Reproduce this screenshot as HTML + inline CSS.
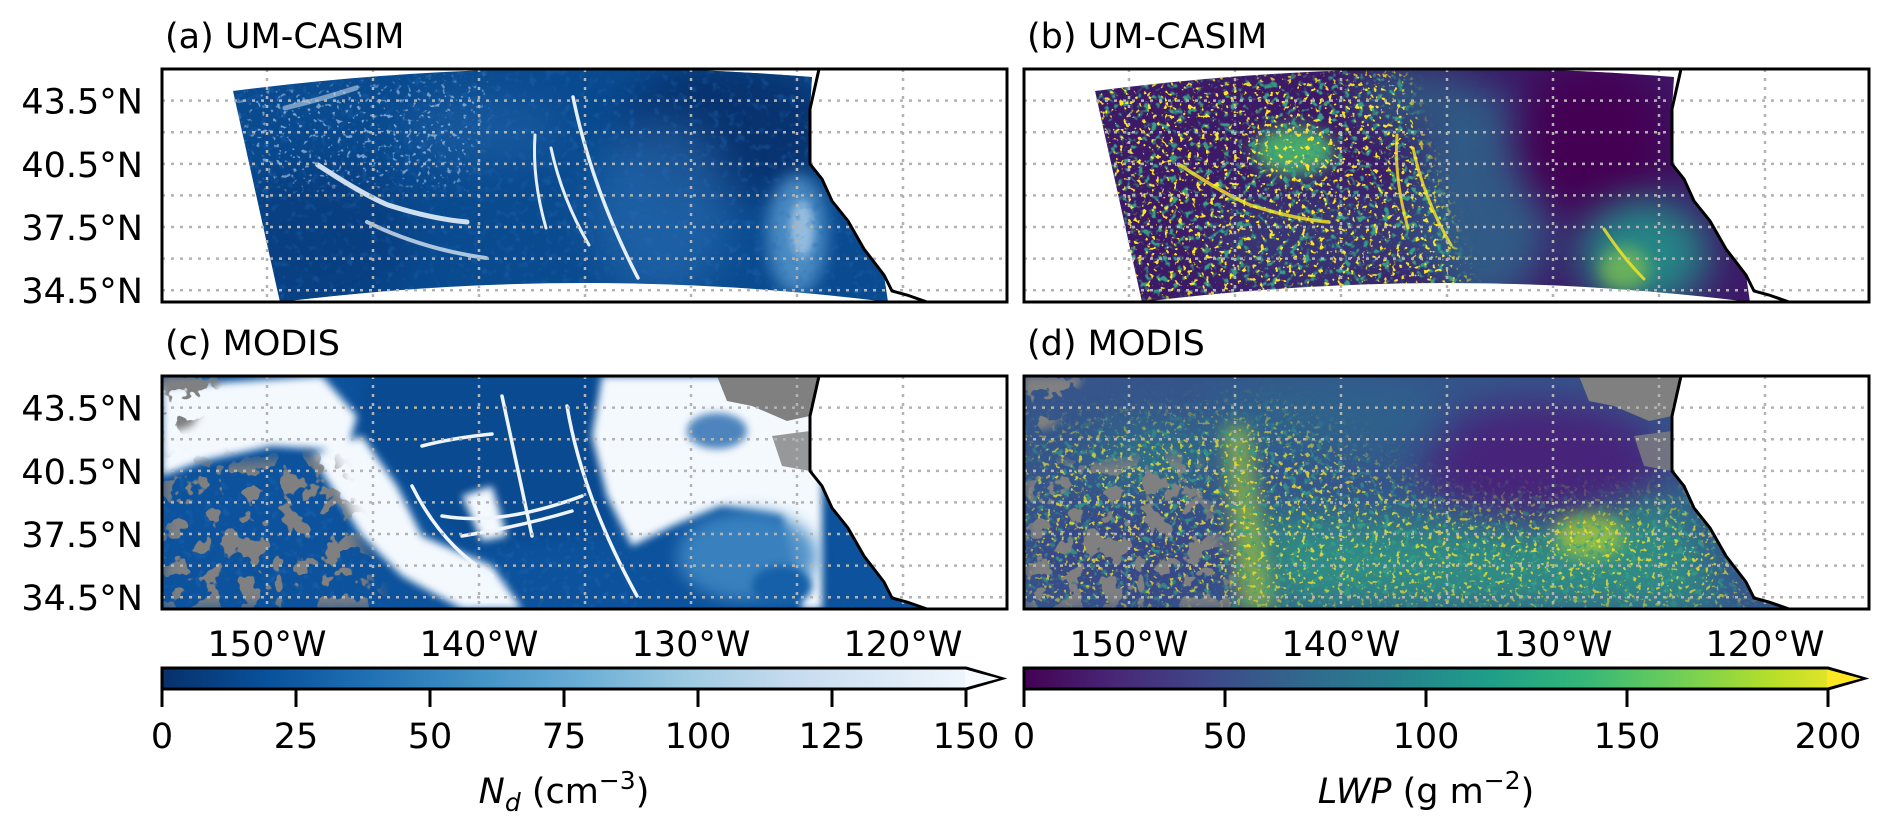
<!DOCTYPE html>
<html><head><meta charset="utf-8"><style>
html,body{margin:0;padding:0;background:#fff;}
svg{display:block;font-family:"DejaVu Sans","Liberation Sans",sans-serif;}
filter{color-interpolation-filters:sRGB;}
</style></head><body>
<svg id="fig" width="1892" height="831" viewBox="0 0 1892 831" xmlns="http://www.w3.org/2000/svg">
<defs>
  <linearGradient id="gBlues" x1="0" x2="1" y1="0" y2="0">
    <stop offset="0" stop-color="#08306b"/><stop offset="0.125" stop-color="#08519c"/>
    <stop offset="0.25" stop-color="#2171b5"/><stop offset="0.375" stop-color="#4292c6"/>
    <stop offset="0.5" stop-color="#6baed6"/><stop offset="0.625" stop-color="#9ecae1"/>
    <stop offset="0.75" stop-color="#c6dbef"/><stop offset="0.875" stop-color="#deebf7"/>
    <stop offset="1" stop-color="#f7fbff"/>
  </linearGradient>
  <linearGradient id="gVir" x1="0" x2="1" y1="0" y2="0">
    <stop offset="0" stop-color="#440154"/><stop offset="0.111" stop-color="#482878"/>
    <stop offset="0.222" stop-color="#3e4989"/><stop offset="0.333" stop-color="#31688e"/>
    <stop offset="0.444" stop-color="#26828e"/><stop offset="0.555" stop-color="#1f9e89"/>
    <stop offset="0.666" stop-color="#35b779"/><stop offset="0.777" stop-color="#6ece58"/>
    <stop offset="0.888" stop-color="#b5de2b"/><stop offset="1" stop-color="#fde725"/>
  </linearGradient>
  <clipPath id="cpPanel"><rect x="0" y="0" width="845" height="233"/></clipPath>
  <clipPath id="cpSwath"><path d="M71,22 Q360,-15 650,8 L648,40 L648,95 L660,110 L670,132 L686,152 L702,180 L722,206 L726,233 Q425,195 118,233 Z"/></clipPath>
  <clipPath id="cpOcean"><path d="M0,0 L657,0 L648,40 L648,95 L660,110 L670,132 L686,152 L702,180 L722,206 L730,222 L745,226 L765,233 L0,233 Z"/></clipPath>
  <filter id="blur20" x="-50%" y="-50%" width="200%" height="200%" color-interpolation-filters="sRGB"><feGaussianBlur stdDeviation="20"/></filter>
  <filter id="blur8" x="-50%" y="-50%" width="200%" height="200%" color-interpolation-filters="sRGB"><feGaussianBlur stdDeviation="8"/></filter>
  <filter id="blur4" x="-50%" y="-50%" width="200%" height="200%" color-interpolation-filters="sRGB"><feGaussianBlur stdDeviation="4"/></filter>
  <filter id="spkY" x="0" y="0" width="845" height="233" filterUnits="userSpaceOnUse" color-interpolation-filters="sRGB">
    <feTurbulence type="fractalNoise" baseFrequency="0.22" numOctaves="2" seed="3"/>
    <feColorMatrix type="matrix" values="0 0 0 0 0.99  0 0 0 0 0.9  0 0 0 0 0.15  12 0 0 0 -7.4"/>
  </filter>
  <filter id="spkGr" x="0" y="0" width="845" height="233" filterUnits="userSpaceOnUse" color-interpolation-filters="sRGB">
    <feTurbulence type="fractalNoise" baseFrequency="0.15" numOctaves="2" seed="21"/>
    <feColorMatrix type="matrix" values="0 0 0 0 0.21  0 0 0 0 0.62  0 0 0 0 0.52  6 0 0 0 -3.3"/>
  </filter>
  <filter id="spkW" x="0" y="0" width="845" height="233" filterUnits="userSpaceOnUse" color-interpolation-filters="sRGB">
    <feTurbulence type="fractalNoise" baseFrequency="0.2" numOctaves="2" seed="8"/>
    <feColorMatrix type="matrix" values="0 0 0 0 0.85  0 0 0 0 0.92  0 0 0 0 1  10 0 0 0 -6.3"/>
  </filter>
  <filter id="spkL" x="0" y="0" width="845" height="233" filterUnits="userSpaceOnUse" color-interpolation-filters="sRGB">
    <feTurbulence type="fractalNoise" baseFrequency="0.12" numOctaves="2" seed="14"/>
    <feColorMatrix type="matrix" values="0 0 0 0 0.15  0 0 0 0 0.42  0 0 0 0 0.72  4 0 0 0 -2.2"/>
  </filter>
  <filter id="spkG" x="0" y="0" width="845" height="233" filterUnits="userSpaceOnUse" color-interpolation-filters="sRGB">
    <feTurbulence type="fractalNoise" baseFrequency="0.05" numOctaves="3" seed="5"/>
    <feColorMatrix type="matrix" values="0 0 0 0 0.5  0 0 0 0 0.5  0 0 0 0 0.5  30 0 0 0 -16.5"/>
  </filter>
  <mask id="mLeftB"><rect x="0" y="0" width="845" height="233" fill="#000"/>
    <path d="M60,10 L380,0 L450,233 L100,233 Z" fill="#fff" filter="url(#blur8)"/></mask>
  <mask id="mLowD"><rect x="0" y="0" width="845" height="233" fill="#000"/>
    <path d="M0,60 L250,40 L420,130 L700,130 L730,233 L0,233 Z" fill="#ccc" filter="url(#blur20)"/></mask>
  <mask id="mGrayC"><rect x="0" y="0" width="845" height="233" fill="#000"/>
    <path d="M0,90 L170,80 L220,233 L0,233 Z" fill="#fff" filter="url(#blur8)"/>
    <path d="M0,0 L60,0 L30,50 L0,60 Z" fill="#fff" filter="url(#blur4)"/></mask>
  <mask id="mLeftA"><rect x="0" y="0" width="845" height="233" fill="#000"/>
    <path d="M70,20 L330,10 L300,120 L100,120 Z" fill="#888" filter="url(#blur8)"/></mask>
  <mask id="mBlueC"><rect x="0" y="0" width="845" height="233" fill="#000"/>
    <path d="M0,100 L180,80 L230,233 L0,233 Z" fill="#fff" filter="url(#blur8)"/>
    <path d="M250,170 L470,150 L500,233 L260,233 Z" fill="#fff" filter="url(#blur8)"/></mask>
</defs>

<!-- Panel a -->
<g id="panel-a" transform="translate(162,69)">
  <g clip-path="url(#cpSwath)">
    <rect x="0" y="0" width="845" height="233" fill="#0a4b90"/>
    <ellipse cx="160" cy="170" rx="90" ry="80" fill="#083d7e" opacity="0.8" filter="url(#blur20)"/>
    <ellipse cx="570" cy="60" rx="110" ry="70" fill="#08336f" filter="url(#blur20)"/>
    <ellipse cx="500" cy="140" rx="70" ry="90" fill="#2a6db0" opacity="0.6" filter="url(#blur20)"/>
    <ellipse cx="320" cy="60" rx="80" ry="35" fill="#2566a9" opacity="0.5" filter="url(#blur20)"/>
    <ellipse cx="635" cy="165" rx="30" ry="60" fill="#5a9bd0" opacity="0.8" filter="url(#blur8)"/>
    <ellipse cx="640" cy="160" rx="12" ry="28" fill="#c5dcf0" opacity="0.6" filter="url(#blur4)"/>
    <rect x="0" y="0" width="845" height="233" filter="url(#spkL)" opacity="0.35"/>
    <rect x="0" y="0" width="845" height="233" filter="url(#spkW)" mask="url(#mLeftA)"/>
    <g fill="none" stroke="#e4eff9" stroke-linecap="round">
      <path d="M156,96 Q200,125 226,136 Q270,150 305,153" stroke-width="5" opacity="0.9"/>
      <path d="M205,153 Q260,180 324,189" stroke-width="4" opacity="0.75"/>
      <path d="M123,39 Q160,30 194,19" stroke-width="5" opacity="0.5"/>
      <path d="M411,28 Q430,120 476,209" stroke-width="3.5"/>
      <path d="M373,66 Q370,110 384,159" stroke-width="3"/>
      <path d="M389,79 Q400,130 427,176" stroke-width="3"/>
    </g>
  </g>
</g>

<!-- Panel b -->
<g id="panel-b" transform="translate(1024,69)">
  <g clip-path="url(#cpSwath)">
    <rect x="0" y="0" width="845" height="233" fill="#3d1a68"/>
    <ellipse cx="460" cy="130" rx="70" ry="110" fill="#2f6b8e" opacity="0.8" filter="url(#blur20)"/>
    <ellipse cx="390" cy="30" rx="60" ry="35" fill="#2a788e" opacity="0.6" filter="url(#blur20)"/>
    <ellipse cx="570" cy="70" rx="80" ry="80" fill="#440154" filter="url(#blur20)"/>
    <ellipse cx="620" cy="185" rx="65" ry="55" fill="#23928a" opacity="0.9" filter="url(#blur20)"/>
    <ellipse cx="600" cy="200" rx="25" ry="22" fill="#9fd93a" opacity="0.55" filter="url(#blur8)"/>
    <ellipse cx="270" cy="82" rx="40" ry="24" fill="#4cbc6c" opacity="0.9" filter="url(#blur8)"/>
    <ellipse cx="300" cy="170" rx="120" ry="50" fill="#31688e" opacity="0.35" filter="url(#blur20)"/>
    <rect x="0" y="0" width="845" height="233" filter="url(#spkGr)" mask="url(#mLeftB)"/>
    <rect x="0" y="0" width="845" height="233" filter="url(#spkY)" mask="url(#mLeftB)"/>
    <g fill="none" stroke="#fde725" stroke-linecap="round" opacity="0.8">
      <path d="M156,96 Q200,125 226,136 Q270,150 305,153" stroke-width="3.5"/>
      <path d="M373,66 Q370,110 384,159" stroke-width="3"/>
      <path d="M389,79 Q400,130 427,176" stroke-width="3"/>
      <path d="M580,160 Q600,190 620,210" stroke-width="3"/>
    </g>
  </g>
</g>

<!-- Panel c -->
<g id="panel-c" transform="translate(162,376)">
  <g clip-path="url(#cpOcean)">
    <rect x="0" y="0" width="845" height="233" fill="#0c529c"/>
    <path d="M200,0 L440,0 L450,160 L300,170 L200,60 Z" fill="#08458a" opacity="0.6" filter="url(#blur8)"/>
    <rect x="0" y="0" width="845" height="233" filter="url(#spkL)" opacity="0.4" mask="url(#mBlueC)"/>
    <g fill="#f4f9fe" filter="url(#blur4)">
      <path d="M0,10 L160,0 L195,40 L185,75 L110,70 L40,85 L0,100 Z"/>
      <path d="M150,80 L200,60 L235,110 L260,160 L330,190 L360,233 L300,233 L240,200 L200,160 Z"/>
      <path d="M440,0 L660,0 L660,233 L640,233 L620,140 L560,130 L510,150 L470,170 L445,120 L430,60 Z"/>
      <path d="M300,120 L330,110 L345,160 L320,165 Z"/>
    </g>
    <ellipse cx="585" cy="180" rx="70" ry="45" fill="#3d86c2" opacity="0.9" filter="url(#blur8)"/>
    <ellipse cx="620" cy="210" rx="30" ry="20" fill="#1560a8" filter="url(#blur4)"/>
    <ellipse cx="555" cy="55" rx="30" ry="18" fill="#2468ad" opacity="0.8" filter="url(#blur4)"/>
    <rect x="0" y="0" width="845" height="233" filter="url(#spkG)" mask="url(#mGrayC)"/>
    <path d="M555,0 L657,0 L648,40 L625,45 L590,30 L565,25 Z" fill="#808080"/>
    <path d="M610,60 L648,55 L648,95 L620,90 Z" fill="#808080" opacity="0.8"/>
    <g fill="none" stroke="#eef5fc" stroke-linecap="round" stroke-width="3.5">
      <path d="M340,20 Q355,90 370,160"/>
      <path d="M405,30 Q420,120 475,220"/>
      <path d="M260,70 Q290,62 330,58"/>
      <path d="M250,110 Q280,170 330,200"/>
      <path d="M280,140 Q340,150 420,120"/>
      <path d="M300,160 Q360,150 410,135"/>
    </g>
  </g>
</g>

<!-- Panel d -->
<g id="panel-d" transform="translate(1024,376)">
  <g clip-path="url(#cpOcean)">
    <rect x="0" y="0" width="845" height="233" fill="#35558b"/>
    <ellipse cx="520" cy="90" rx="120" ry="65" fill="#47247a" filter="url(#blur20)"/>
    <ellipse cx="300" cy="40" rx="120" ry="40" fill="#2b6a8d" opacity="0.6" filter="url(#blur20)"/>
    <ellipse cx="110" cy="180" rx="110" ry="50" fill="#3a3f85" opacity="0.6" filter="url(#blur20)"/>
    <path d="M230,140 L520,150 L650,120 L700,233 L250,233 Z" fill="#2f9e84" opacity="0.75" filter="url(#blur20)"/>
    <ellipse cx="565" cy="160" rx="35" ry="22" fill="#c8e020" opacity="0.6" filter="url(#blur8)"/>
    <path d="M198,50 L225,50 L250,233 L215,233 Z" fill="#b5de2b" opacity="0.55" filter="url(#blur8)"/>
    <ellipse cx="130" cy="80" rx="60" ry="30" fill="#2a8a8a" opacity="0.5" filter="url(#blur20)"/>
    <rect x="0" y="0" width="845" height="233" filter="url(#spkGr)" mask="url(#mLowD)"/>
    <rect x="0" y="0" width="845" height="233" filter="url(#spkY)" mask="url(#mLowD)"/>
    <rect x="0" y="0" width="845" height="233" filter="url(#spkG)" mask="url(#mGrayC)"/>
    <path d="M555,0 L657,0 L648,40 L625,45 L590,30 L565,25 Z" fill="#808080"/>
    <path d="M610,60 L648,55 L648,95 L620,90 Z" fill="#808080" opacity="0.8"/>
  </g>
</g>

<g id="overlays"></g>
<g id="texts"></g>
</svg>
<script>
const latTicks = [43.5, 40.5, 37.5, 34.5];
const latGrid = [43.5, 42, 40.5, 39, 37.5, 36, 34.5];
const lonGrid = [-150, -145, -140, -135, -130, -125, -120];
const lonTicks = [-150, -140, -130, -120];
const ndTicks = [0, 25, 50, 75, 100, 125, 150];
const lwpTicks = [0, 50, 100, 150, 200];
const panelTitles = ["(a) UM-CASIM", "(b) UM-CASIM", "(c) MODIS", "(d) MODIS"];

const NS = "http://www.w3.org/2000/svg";
const W = 845, H = 233;
const panels = [[162,69],[1024,69],[162,376],[1024,376]];
function yLat(lat){ return (45 - lat) * 21.07; }
function xLon(lon){ return 105 + (lon + 150) * 21.2; }
function mk(tag, attrs, parent){ const e=document.createElementNS(NS,tag); for(const k in attrs) e.setAttribute(k,attrs[k]); parent.appendChild(e); return e; }
const ov = document.getElementById('overlays');
const tx = document.getElementById('texts');
const coast = "M657,0 L648,40 L648,95 L660,110 L670,132 L686,152 L702,180 L722,206 L730,222 L745,226 L765,233";

panels.forEach((p, i) => {
  const g = mk('g', {transform:`translate(${p[0]},${p[1]})`, 'clip-path':'url(#cpPanel)'}, ov);
  
  
  latGrid.forEach(lat => {
    const l = mk('line', {x1:0, x2:W, y1:yLat(lat), y2:yLat(lat), stroke:'#b3b3b3', 'stroke-width':2.5, 'stroke-dasharray':'3 6'}, g);
    
    
  });
  lonGrid.forEach(lon => {
    const l = mk('line', {x1:xLon(lon), x2:xLon(lon), y1:0, y2:H, stroke:'#b3b3b3', 'stroke-width':2.5, 'stroke-dasharray':'3 6'}, g);
    
    
  });
  const c = mk('path', {d:coast, fill:'none', stroke:'#000', 'stroke-width':3}, g);
  
  
  const b = mk('rect', {x:p[0], y:p[1], width:W, height:H, fill:'none', stroke:'#000', 'stroke-width':3}, ov);
  
  
  const t = mk('text', {x:p[0]+3, y:p[1]-21, 'font-size':35, fill:'#000'}, tx);
  t.textContent = panelTitles[i];
  
  
  if (i % 2 === 0) {
    latTicks.forEach(lat => {
      const lt = mk('text', {x:143, y:p[1]+yLat(lat)+13, 'font-size':35, 'text-anchor':'end'}, tx);
      lt.textContent = lat.toFixed(1) + '°N';
      
      
    });
  }
  if (i >= 2) {
    lonTicks.forEach(lon => {
      const lt = mk('text', {x:p[0]+xLon(lon), y:656, 'font-size':35, 'text-anchor':'middle'}, tx);
      lt.textContent = Math.abs(lon) + '°W';
      
      
    });
  }
});

function colorbar(x0, grad, ticks, vmax, name) {
  const len = 804, y0 = 668, h = 21;
  const g = mk('g', {}, ov);
  
  
  const poly = `${x0},${y0} ${x0+len},${y0} ${x0+len+36},${y0+h/2} ${x0+len},${y0+h} ${x0},${y0+h}`;
  mk('polygon', {points:poly, fill:grad, stroke:'#000', 'stroke-width':3, 'stroke-linejoin':'miter'}, g);
  mk('polygon', {points:`${x0+len-1},${y0+1.5} ${x0+len+33},${y0+h/2} ${x0+len-1},${y0+h-1.5}`, fill: grad === 'url(#gBlues)' ? '#f7fbff' : '#fde725'}, g);
  ticks.forEach(v => {
    const x = x0 + v / vmax * len;
    const tk = mk('line', {x1:x, x2:x, y1:y0+h, y2:y0+h+18, stroke:'#000', 'stroke-width':3}, g);
    
    
    const tl = mk('text', {x:x, y:748, 'font-size':35, 'text-anchor':'middle'}, tx);
    tl.textContent = String(v);
    
    
  });
}
colorbar(162, 'url(#gBlues)', ndTicks, 150, 'nd-colorbar');
colorbar(1024, 'url(#gVir)', lwpTicks, 200, 'lwp-colorbar');

const l1 = mk('text', {x:564, y:803, 'font-size':35, 'text-anchor':'middle'}, tx);
l1.innerHTML = '<tspan font-style="italic">N</tspan><tspan font-style="italic" font-size="25" dy="8">d</tspan><tspan dy="-8"> (cm</tspan><tspan font-size="25" dy="-14">−3</tspan><tspan dy="14">)</tspan>';


const l2 = mk('text', {x:1426, y:803, 'font-size':35, 'text-anchor':'middle'}, tx);
l2.innerHTML = '<tspan font-style="italic">LWP</tspan><tspan> (g m</tspan><tspan font-size="25" dy="-14">−2</tspan><tspan dy="14">)</tspan>';


</script>
</body></html>
